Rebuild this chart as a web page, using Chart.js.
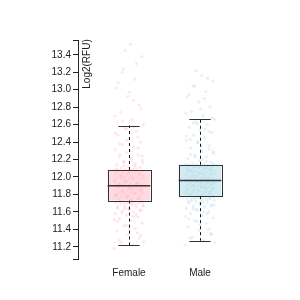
<!DOCTYPE html>
<html>
<head>
<meta charset="utf-8">
<script src="https://cdn.jsdelivr.net/npm/chart.js@4"></script>
<style>
  html, body { margin: 0; padding: 0; background: #fff; }
  #wrap { width: 300px; height: 300px; }
</style>
</head>
<body>
<div id="wrap"><canvas id="c" width="300" height="300"></canvas></div>
<script>
// categories and box stats
const groups = ["Female", "Male"];
const whiskerLow = [11.22, 11.27];
const q1 = [11.73, 11.78];
const median = [11.90, 11.96];
const q3 = [12.08, 12.14];
const whiskerHigh = [12.59, 12.67];

const yTicks = [11.2, 11.4, 11.6, 11.8, 12.0, 12.2, 12.4, 12.6, 12.8, 13.0, 13.2, 13.4];

// individual samples (estimated spread)
const femaleVals = [
  11.18, 11.22, 11.25, 11.30, 11.34, 11.38, 11.41, 11.44, 11.47, 11.50, 11.52, 11.54, 11.56, 11.58, 11.60,
  11.61, 11.62, 11.63, 11.64, 11.65, 11.66, 11.67, 11.68, 11.69, 11.70, 11.70, 11.71, 11.72, 11.72, 11.73,
  11.74, 11.75, 11.75, 11.76, 11.77, 11.77, 11.78, 11.79, 11.79, 11.80, 11.81, 11.81, 11.82, 11.83, 11.83,
  11.84, 11.85, 11.85, 11.86, 11.86, 11.87, 11.87, 11.88, 11.88, 11.89, 11.89, 11.89, 11.90, 11.90, 11.90,
  11.91, 11.91, 11.92, 11.92, 11.93, 11.93, 11.94, 11.95, 11.95, 11.96, 11.97, 11.97, 11.98, 11.99, 11.99,
  12.00, 12.01, 12.01, 12.02, 12.03, 12.03, 12.04, 12.05, 12.05, 12.06, 12.06, 12.07, 12.07, 12.08, 12.08,
  12.09, 12.10, 12.11, 12.12, 12.14, 12.15, 12.17, 12.19, 12.21, 12.23, 12.25, 12.28, 12.31, 12.34, 12.37,
  12.40, 12.44, 12.48, 12.52, 12.56, 12.60, 12.66, 12.74, 12.82, 12.92, 13.02, 13.12, 13.24, 13.38, 13.52,
  11.28, 11.36, 11.45, 11.51, 11.55, 11.59, 11.62, 11.64, 11.66, 11.68, 11.69, 11.71, 11.73, 11.74, 11.76,
  11.78, 11.80, 11.82, 11.84, 11.86, 11.88, 11.91, 11.93, 11.96, 11.98, 12.00, 12.02, 12.04, 12.06, 12.09,
  12.13, 12.18, 12.24, 12.30, 12.38, 12.46, 12.55, 12.70, 12.88, 13.20, 11.33, 11.42, 11.49, 11.57, 11.63,
  11.67, 11.70, 11.72, 11.75, 11.77, 11.79, 11.81, 11.83, 11.85, 11.87, 11.89, 11.92, 11.94, 11.96, 11.98,
  12.00, 12.02, 12.04, 12.07, 12.10, 12.13, 12.16, 12.20, 12.26, 12.33, 12.42, 12.50, 12.58, 12.64, 12.78,
  12.97, 13.08, 13.30, 13.45, 11.26
];
const maleVals = [
  11.22, 11.27, 11.31, 11.35, 11.39, 11.43, 11.47, 11.50, 11.53, 11.56, 11.58, 11.60, 11.62, 11.64, 11.66,
  11.67, 11.68, 11.69, 11.70, 11.71, 11.72, 11.73, 11.74, 11.75, 11.75, 11.76, 11.76, 11.77, 11.77, 11.78,
  11.79, 11.80, 11.80, 11.81, 11.82, 11.82, 11.83, 11.84, 11.84, 11.85, 11.86, 11.86, 11.87, 11.88, 11.88,
  11.89, 11.90, 11.90, 11.91, 11.91, 11.92, 11.92, 11.93, 11.93, 11.94, 11.94, 11.95, 11.95, 11.96, 11.96,
  11.97, 11.97, 11.98, 11.98, 11.99, 12.00, 12.00, 12.01, 12.02, 12.02, 12.03, 12.04, 12.04, 12.05, 12.06,
  12.06, 12.07, 12.08, 12.08, 12.09, 12.10, 12.10, 12.11, 12.11, 12.12, 12.12, 12.13, 12.13, 12.14, 12.14,
  12.15, 12.16, 12.17, 12.19, 12.21, 12.23, 12.25, 12.27, 12.30, 12.33, 12.36, 12.39, 12.42, 12.45, 12.48,
  12.51, 12.54, 12.57, 12.60, 12.63, 12.66, 12.70, 12.75, 12.80, 12.86, 12.92, 12.98, 13.04, 13.10, 13.16,
  11.30, 11.40, 11.49, 11.55, 11.60, 11.64, 11.67, 11.70, 11.72, 11.74, 11.75, 11.77, 11.79, 11.80, 11.82,
  11.84, 11.86, 11.88, 11.90, 11.92, 11.94, 11.96, 11.98, 12.01, 12.03, 12.05, 12.07, 12.09, 12.11, 12.14,
  12.18, 12.23, 12.29, 12.35, 12.43, 12.52, 12.61, 12.73, 12.90, 13.05, 11.34, 11.45, 11.52, 11.58, 11.63,
  11.68, 11.71, 11.73, 11.76, 11.78, 11.81, 11.83, 11.85, 11.87, 11.89, 11.91, 11.93, 11.95, 11.97, 11.99,
  12.01, 12.03, 12.05, 12.08, 12.10, 12.12, 12.15, 12.20, 12.26, 12.32, 12.40, 12.47, 12.55, 12.62, 12.68,
  12.78, 12.95, 13.13, 13.22, 11.25
];

const PINK = "rgba(255,170,185,0.28)";
const BLUE = "rgba(165,210,228,0.28)";
const BOX_FILL = ["rgba(255,190,200,0.55)", "rgba(175,218,232,0.55)"];

// spread points sideways with a fixed (golden ratio) pattern
function jitter(vals, center) {
  return vals.map((v, i) => ({ x: center + (((i * 0.618034) % 1) - 0.5) * 0.42, y: v }));
}

const boxPlugin = {
  id: "boxes",
  afterDatasetsDraw(chart) {
    const { ctx, scales: { x, y } } = chart;
    ctx.save();
    groups.forEach((g, i) => {
      const cx = x.getPixelForValue(i + 1);
      const half = x.getPixelForValue(i + 1.3) - cx;
      const cap = half / 2;
      const yq1 = y.getPixelForValue(q1[i]);
      const yq3 = y.getPixelForValue(q3[i]);
      const ymed = y.getPixelForValue(median[i]);
      const ylo = y.getPixelForValue(whiskerLow[i]);
      const yhi = y.getPixelForValue(whiskerHigh[i]);

      // box
      ctx.fillStyle = BOX_FILL[i];
      ctx.fillRect(cx - half, yq3, half * 2, yq1 - yq3);
      ctx.strokeStyle = "#333";
      ctx.lineWidth = 1;
      ctx.strokeRect(Math.round(cx - half) + 0.5, Math.round(yq3) + 0.5, Math.round(half * 2), Math.round(yq1 - yq3));

      // median
      ctx.lineWidth = 1.5;
      ctx.beginPath();
      ctx.moveTo(cx - half, ymed);
      ctx.lineTo(cx + half, ymed);
      ctx.stroke();

      // whiskers
      ctx.lineWidth = 1;
      ctx.strokeStyle = "#111";
      ctx.setLineDash([3, 3]);
      ctx.beginPath();
      ctx.moveTo(Math.round(cx) + 0.5, yq3);
      ctx.lineTo(Math.round(cx) + 0.5, yhi);
      ctx.moveTo(Math.round(cx) + 0.5, yq1);
      ctx.lineTo(Math.round(cx) + 0.5, ylo);
      ctx.stroke();
      ctx.setLineDash([]);
      ctx.strokeStyle = "#333";
      ctx.beginPath();
      ctx.moveTo(cx - cap, Math.round(yhi) + 0.5);
      ctx.lineTo(cx + cap, Math.round(yhi) + 0.5);
      ctx.moveTo(cx - cap, Math.round(ylo) + 0.5);
      ctx.lineTo(cx + cap, Math.round(ylo) + 0.5);
      ctx.stroke();
    });

    // y-axis title sits just inside the axis
    ctx.fillStyle = "#222";
    ctx.font = "10px 'Liberation Sans', Arial, sans-serif";
    ctx.textAlign = "center";
    ctx.textBaseline = "middle";
    ctx.translate(chart.chartArea.left + 9, 64);
    ctx.rotate(-Math.PI / 2);
    ctx.fillText("Log2(RFU)", 0, 0);
    ctx.restore();
  }
};

new Chart(document.getElementById("c"), {
  type: "scatter",
  data: {
    datasets: [
      { data: jitter(femaleVals, 1), backgroundColor: PINK, borderWidth: 0, pointRadius: 1.6 },
      { data: jitter(maleVals, 2), backgroundColor: BLUE, borderWidth: 0, pointRadius: 1.6 }
    ]
  },
  options: {
    responsive: false,
    animation: false,
    layout: { padding: { top: 40, right: 50, left: 0, bottom: 0 } },
    plugins: { legend: { display: false }, tooltip: { enabled: false } },
    scales: {
      x: {
        type: "linear",
        min: 0.2817,
        max: 2.704,
        afterBuildTicks: s => { s.ticks = groups.map((g, i) => ({ value: i + 1 })); },
        afterFit: s => { s.height = 41; },
        grid: { display: false, drawTicks: false },
        border: { display: false },
        ticks: {
          padding: 8,
          color: "#222",
          font: { family: "'Liberation Sans', Arial, sans-serif", size: 10 },
          callback: v => groups[v - 1] || ""
        }
      },
      y: {
        min: 11.06,
        max: 13.57,
        afterBuildTicks: s => {
          s.ticks = [{ value: 11.06 }].concat(yTicks.map(v => ({ value: v })), [{ value: 13.57 }]);
        },
        afterFit: s => { s.width = 78; },
        grid: { drawOnChartArea: false, drawTicks: true, tickLength: 5, color: "#222" },
        border: { display: true, color: "#222", width: 1 },
        ticks: {
          padding: 2,
          color: "#222",
          font: { family: "'Liberation Sans', Arial, sans-serif", size: 10 },
          callback: v => (yTicks.includes(v) ? v.toFixed(1) : "")
        }
      }
    }
  },
  plugins: [boxPlugin]
});
</script>
</body>
</html>
